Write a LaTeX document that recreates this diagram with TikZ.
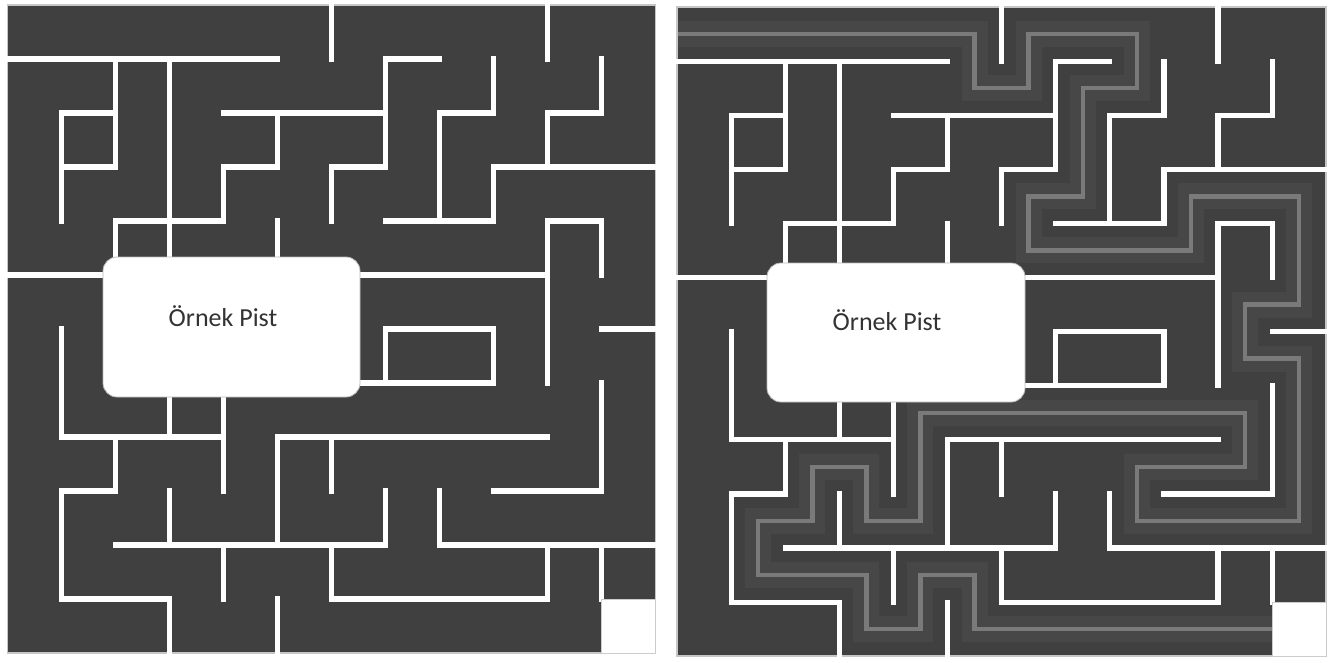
\documentclass[tikz,border=0pt]{standalone}
\usepackage{fontspec}
\setmainfont{Carlito}

\newcommand\mazewalls{%
  \draw[frame] (0,0) rectangle (12,12);
  \foreach \j/\a/\b in {1/0/5,1/7/8,2/1/2,2/4/7,2/8/9,2/10/11,3/1/2,3/4/5,
      3/6/7,3/9/12,4/2/4,4/7/9,4/10/11,5/0/10,6/7/9,6/11/12,7/6/9,8/1/4,
      8/5/10,9/1/2,9/9/11,10/2/7,10/8/12,11/1/3,11/6/10}
    \draw[wall] (\a,\j) -- (\b,\j);
  \foreach \i/\a/\b in {1/2/4,1/6/8,1/9/11,2/1/3,2/4/5,2/8/9,3/1/5,3/7/8,
      3/9/10,3/11/12,4/3/4,4/7/9,4/10/11,5/2/3,5/4/5,5/8/10,5/11/12,6/0/1,
      6/3/4,6/8/9,6/10/11,7/1/3,7/6/7,7/9/10,8/2/4,8/9/10,9/1/2,9/3/4,
      9/6/7,10/0/1,10/2/3,10/4/7,10/10/11,11/1/2,11/4/5,11/7/9,11/10/11}
    \draw[wall] (\i,\a) -- (\i,\b);
  \fill[white] (11,11) rectangle (12,12);
  \draw[gray!40,line width=0.8pt] (11,11) rectangle (12,12);
}

\begin{document}
\begin{tikzpicture}[x=1pt,y=-1pt,
  wall/.style={white,line width=5.2pt,line cap=rect},
  frame/.style={draw=gray!45,line width=1.6pt},
  floor/.style={fill=black!75},
  pistbox/.style={draw=gray!55,fill=white,rounded corners=14pt,
    line width=0.8pt,inner sep=0pt,outer sep=0pt},
  pisttext/.style={font=\fontsize{26}{30}\selectfont,text=black!80},
  track/.style={black!72,line width=26pt},
  trackline/.style={black!52,line width=4.5pt}]
  \useasboundingbox (0,0) rectangle (1340,662);
  \fill[white] (0,0) rectangle (1340,662);

  \begin{scope}[shift={(7.5,5)},x=54pt,y=-54pt]
    \fill[floor] (0,0) rectangle (12,12);
    \mazewalls
  \end{scope}
  \node[pistbox,minimum width=257pt,minimum height=140pt]
    (leftbox) at (231.5,327) {};
  \node[pisttext] (lefttext) at (223,316) {Örnek Pist};

  \begin{scope}[shift={(677,7)},x=54.1pt,y=-54.1pt]
    \fill[floor] (0,0) rectangle (12,12);
    \foreach \tr in {track,trackline}
      \draw[\tr] (0,0.5) -- (5.5,0.5) -- (5.5,1.5) -- (6.5,1.5) -- (6.5,0.5)
        -- (8.5,0.5) -- (8.5,1.5) -- (7.5,1.5) -- (7.5,3.5) -- (6.5,3.5)
        -- (6.5,4.5) -- (9.5,4.5) -- (9.5,3.5) -- (11.5,3.5) -- (11.5,5.5)
        -- (10.5,5.5) -- (10.5,6.5) -- (11.5,6.5) -- (11.5,9.5) -- (8.5,9.5)
        -- (8.5,8.5) -- (10.5,8.5) -- (10.5,7.5) -- (4.5,7.5) -- (4.5,9.5)
        -- (3.5,9.5) -- (3.5,8.5) -- (2.5,8.5) -- (2.5,9.5) -- (1.5,9.5)
        -- (1.5,10.5) -- (3.5,10.5) -- (3.5,11.5) -- (4.5,11.5) -- (4.5,10.5)
        -- (5.5,10.5) -- (5.5,11.5) -- (11,11.5);
    \mazewalls
  \end{scope}
  \node[pistbox,minimum width=258pt,minimum height=139pt]
    (rightbox) at (896,332.5) {};
  \node[pisttext] (righttext) at (887,320) {Örnek Pist};
\end{tikzpicture}
\end{document}
